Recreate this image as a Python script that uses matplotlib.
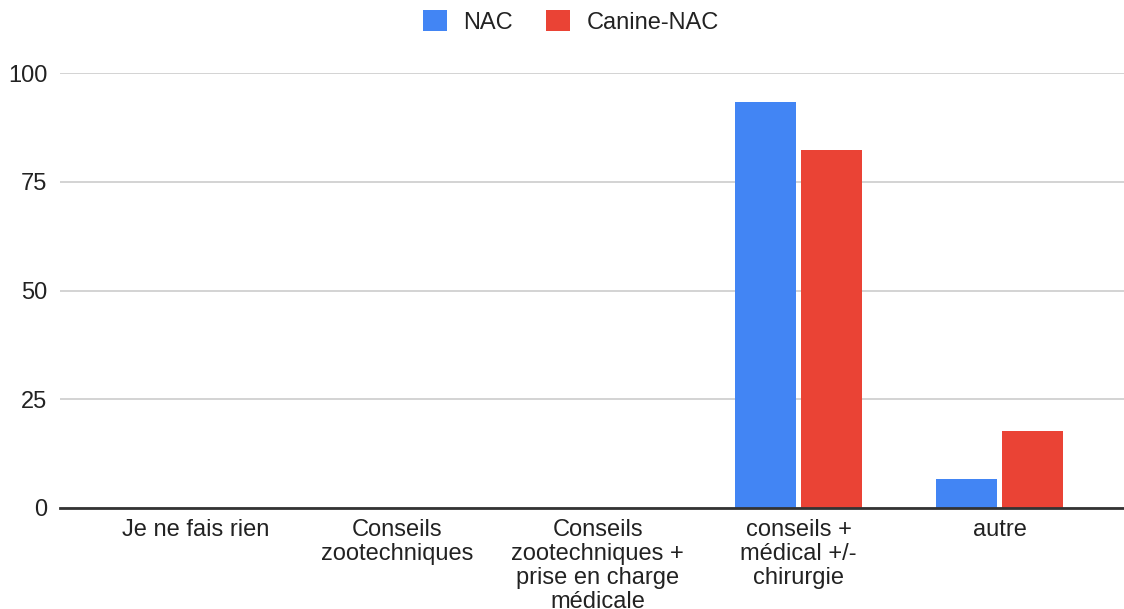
import numpy as np
import matplotlib
matplotlib.use('Agg')
from matplotlib import pyplot as plt

plt.rcParams['font.family'] = ['Liberation Sans', 'DejaVu Sans']

categories = ["Je ne fais rien",
              "Conseils\nzootechniques",
              "Conseils\nzootechniques +\nprise en charge\nmédicale",
              "conseils +\nmédical +/-\nchirurgie",
              "autre"]
nac = [0, 0, 0, 93.33, 6.67]
canine_nac = [0, 0, 0, 82.35, 17.65]
yticks = [0, 25, 50, 75, 100]

fig = plt.figure(figsize=(11.24, 6.09), dpi=100)
ax = fig.add_axes([60/1124, 101/609, 1064/1124, 435/609])

x = np.arange(len(categories))
w = 0.304
b1 = ax.bar(x - 0.165, nac, w, color='#4285F4', label='NAC', zorder=3)
b2 = ax.bar(x + 0.165, canine_nac, w, color='#EA4335', label='Canine-NAC', zorder=3)

ax.set_xlim(-0.677, 4.62)
ax.set_ylim(0, 100)
ax.set_yticks(yticks)
ax.set_xticks(x)
ax.set_xticklabels(categories, linespacing=1.12)
ax.tick_params(axis='both', length=0, labelsize=17, colors='#222222')
ax.tick_params(axis='y', pad=9)
ax.tick_params(axis='x', pad=8)
ax.grid(axis='y', color='#cccccc', linewidth=1.2, zorder=0)
for s in ['top', 'right', 'left']:
    ax.spines[s].set_visible(False)
ax.spines['bottom'].set_color('#333333')
ax.spines['bottom'].set_linewidth(2)
ax.spines['bottom'].set_zorder(4)

fig.legend(handles=[b1, b2], loc='center', bbox_to_anchor=(0.508, 1 - 22/609),
           ncol=2, frameon=False, fontsize=17, handlelength=1.0, handleheight=1.0,
           handletextpad=0.7, columnspacing=1.4, labelcolor='#222222')

fig.savefig('out.png', dpi=100)
